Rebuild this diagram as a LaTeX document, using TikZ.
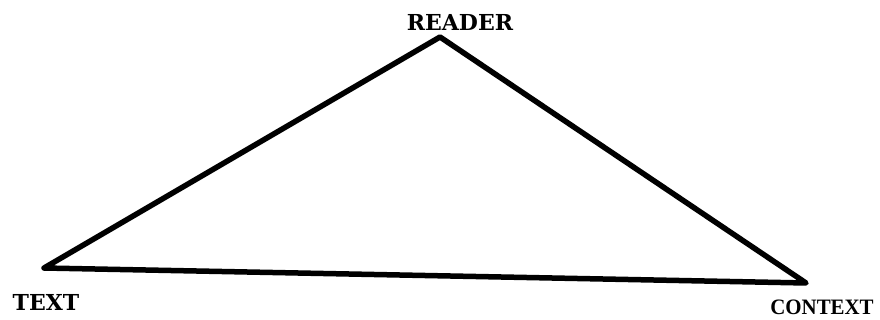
\documentclass[tikz,border=0pt]{standalone}
\usepackage{fontspec}
\usepackage{graphicx}
\newfontfamily\seriffont{Liberation Serif}
\newfontfamily\slabfont{DejaVu Serif}
\begin{document}
\begin{tikzpicture}[x=1pt,y=-1pt,
  edge/.style={line width=5.5pt,line join=round,line cap=round},
  lbl/.style={inner sep=0pt,font=\slabfont\bfseries\fontsize{22}{22}\selectfont},
  lblserif/.style={inner sep=0pt,font=\seriffont\bfseries\fontsize{22}{22}\selectfont}]
\useasboundingbox (0,0) rectangle (880,320);
\coordinate (reader) at (440,37);
\coordinate (text) at (44,268);
\coordinate (context) at (806,283);
\node[lbl] (readerlbl) at (460,22) {READER};
\node[lbl] (textlbl) at (46,302) {TEXT};
\node[lblserif] (contextlbl) at (822,307) {\scalebox{0.95}[1]{CONTEXT}};
\draw[edge] (reader) -- (text) -- (context) -- cycle;
\end{tikzpicture}
\end{document}
